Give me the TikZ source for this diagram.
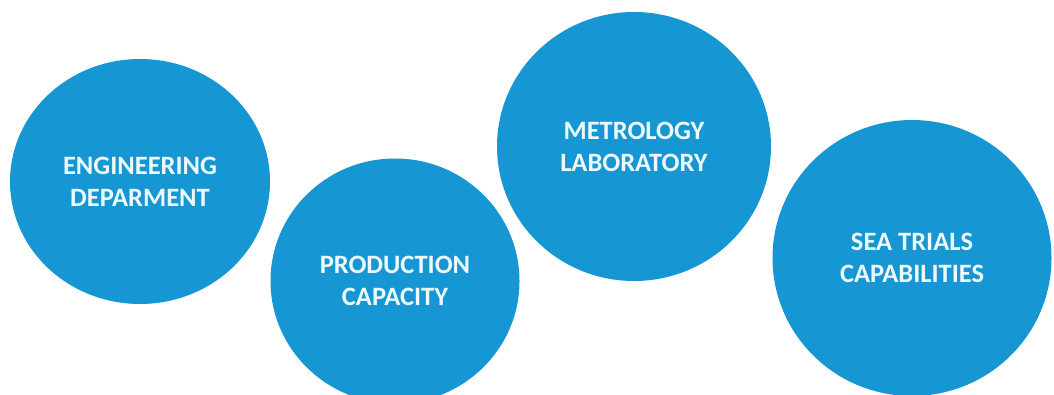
\documentclass[tikz,border=0pt]{standalone}
\usepackage{fontspec}
\setmainfont{Carlito}
\usetikzlibrary{shapes.geometric}
\definecolor{bubbleblue}{RGB}{22,150,211}
\definecolor{bubbletext}{RGB}{236,250,255}
\tikzset{
  bubble/.style={ellipse, fill=bubbleblue, draw=none, inner sep=0pt,
    text=bubbletext, align=center,
    font=\fontsize{26.5}{32}\selectfont\bfseries}
}
\begin{document}
\begin{tikzpicture}[x=1pt,y=1pt]
\clip (0,0) rectangle (1054,394);
\fill[white] (0,0) rectangle (1054,394);
\node[bubble, minimum width=260pt, minimum height=245pt] (eng) at (140,212.5) {ENGINEERING\\DEPARMENT};
\node[bubble, minimum width=249pt, minimum height=245pt] (prod) at (395,113) {PRODUCTION\\CAPACITY};
\node[bubble, minimum width=274pt, minimum height=269pt] (metro) at (634,247.5) {METROLOGY\\LABORATORY};
\node[bubble, minimum width=279pt, minimum height=276pt] (sea) at (912,136) {SEA TRIALS\\CAPABILITIES};
\end{tikzpicture}
\end{document}
